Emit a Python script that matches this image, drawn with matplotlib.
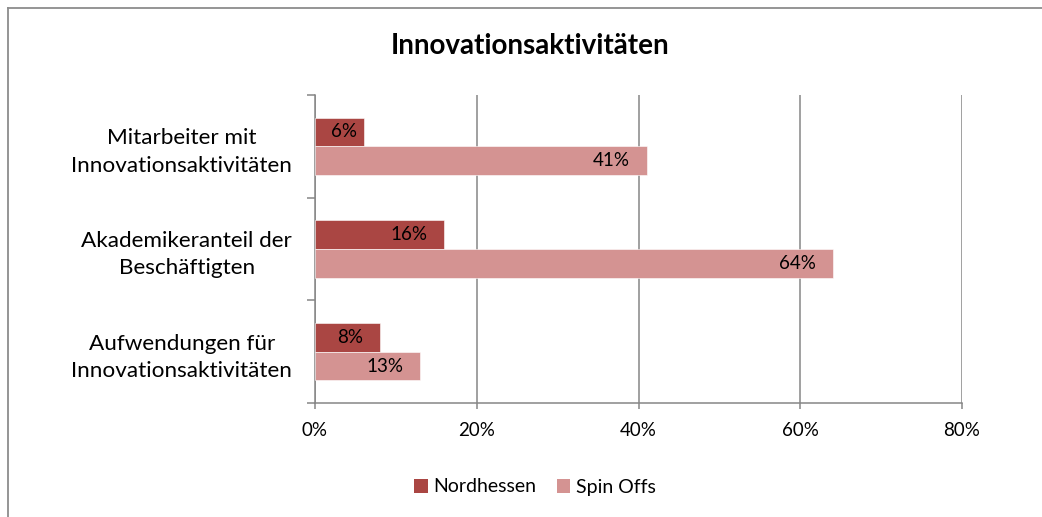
import matplotlib
matplotlib.use("Agg")
import matplotlib.pyplot as plt
from matplotlib.lines import Line2D
from matplotlib.patches import Patch
import numpy as np

categories = ["Mitarbeiter mit\nInnovationsaktivitäten",
              "Akademikeranteil der\nBeschäftigten",
              "Aufwendungen für\nInnovationsaktivitäten"]
series_names = ["Nordhessen", "Spin Offs"]
nordhessen = [6, 16, 8]
spin_offs = [41, 64, 13]
x_ticks = [0, 20, 40, 60, 80]
x_tick_labels = ["0%", "20%", "40%", "60%", "80%"]
title = "Innovationsaktivitäten"

colors = ["#AA4643", "#D49392"]
grid_color = "#868686"

plt.rcParams['font.family'] = ['Lato', 'DejaVu Sans']

W, H = 1042, 517
fig = plt.figure(figsize=(W / 100, H / 100), dpi=100)
ax = fig.add_axes([315 / W, 1 - 403 / H, 647 / W, 308 / H])

pos = np.arange(len(categories))
bh = 0.28
bars_n = ax.barh(pos - bh / 2, nordhessen, height=bh, color=colors[0],
                 edgecolor="white", linewidth=0.4, zorder=3)
bars_s = ax.barh(pos + bh / 2, spin_offs, height=bh, color=colors[1],
                 edgecolor="white", linewidth=0.4, zorder=3)

ax.set_xlim(0, 80)
ax.set_ylim(len(categories) - 0.5, -0.5)

ax.set_xticks(x_ticks)
ax.set_xticklabels(x_tick_labels, fontsize=13.5)
ax.tick_params(axis='x', length=4.5, width=1.1, color=grid_color, pad=9)
ax.grid(axis='x', color=grid_color, linewidth=1.1, zorder=0)

ax.set_yticks(np.arange(len(categories) + 1) - 0.5)
ax.set_yticklabels([])
ax.tick_params(axis='y', which='major', length=6, width=1.1, color=grid_color)
ax.set_yticks(pos, minor=True)
ax.set_yticklabels(categories, minor=True, fontsize=16.2, ha='right',
                   multialignment='center', linespacing=1.45)
ax.tick_params(axis='y', which='minor', length=0, pad=16.5)

for s in ['top', 'right']:
    ax.spines[s].set_visible(False)
for s in ['left', 'bottom']:
    ax.spines[s].set_color(grid_color)
    ax.spines[s].set_linewidth(1.1)

# data labels, inside end
fig.canvas.draw()
renderer = fig.canvas.get_renderer()
x0_px = ax.transData.transform((0, 0))[0]
for bars, vals in [(bars_n, nordhessen), (bars_s, spin_offs)]:
    for b, v in zip(bars, vals):
        yc = b.get_y() + b.get_height() / 2
        t = ax.annotate(f"{v}%", xy=(v, yc), xytext=(-12.0, 0),
                        textcoords='offset points', ha='right', va='center',
                        fontsize=13.5, color='black', zorder=5)
        bb = t.get_window_extent(renderer)
        min_left = x0_px + 16
        if bb.x0 < min_left:
            shift = (min_left - bb.x0) * 72 / fig.dpi
            t.set_position((-12.0 + shift, 0))

fig.text(530 / W, 1 - 46 / H, title, ha='center', va='center',
         fontsize=20, fontweight='bold')

handles = [Patch(facecolor=c, edgecolor='none') for c in colors]
fig.legend(handles, series_names, loc='center', bbox_to_anchor=(535 / W, 1 - 487 / H),
           ncol=2, frameon=False, fontsize=14.0, handlelength=0.7, handleheight=0.7,
           handletextpad=0.3, columnspacing=1.05)

# chart frame (top and left edges visible)
fig.add_artist(Line2D([8 / W, 1], [1 - 8 / H, 1 - 8 / H], transform=fig.transFigure,
                      color="#8C8C8C", linewidth=1.3))
fig.add_artist(Line2D([8 / W, 8 / W], [0, 1 - 8 / H], transform=fig.transFigure,
                      color="#8C8C8C", linewidth=1.3))

fig.savefig("out.png", dpi=100)
